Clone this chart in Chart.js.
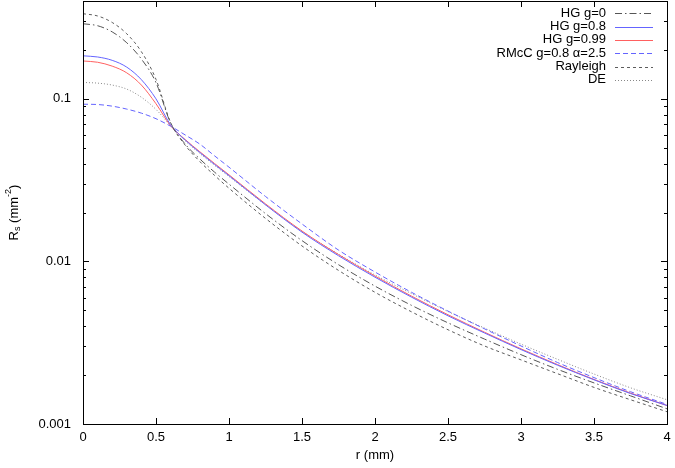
<!DOCTYPE html>
<html>
<head>
<meta charset="utf-8">
<script src="https://cdn.jsdelivr.net/npm/chart.js@4/dist/chart.umd.min.js"></script>
<style>
html,body{margin:0;padding:0;background:#fff;}
canvas{display:block;}
</style>
</head>
<body>
<canvas id="c" width="675" height="468"></canvas>
<script>
// radial distance r (mm)
const rValues = [0, 0.1, 0.2, 0.3, 0.4, 0.5, 0.6, 0.7, 0.8, 0.9, 1.0, 1.25, 1.5, 1.75, 2.0, 2.25, 2.5, 2.75, 3.0, 3.25, 3.5, 3.75, 4.0];
// Rs (mm^-2)
const hgG0     = [0.2897, 0.2818, 0.2582, 0.2213, 0.1758, 0.1259, 0.0711, 0.0527, 0.0427, 0.0355, 0.0299, 0.0197, 0.01343, 0.00955, 0.00705, 0.00537, 0.00419, 0.00333, 0.00267, 0.00217, 0.00179, 0.00149, 0.00124];
const hgG08    = [0.184, 0.181, 0.1726, 0.1567, 0.1312, 0.100, 0.0692, 0.0558, 0.0468, 0.0396, 0.0337, 0.0223, 0.01514, 0.01084, 0.0080, 0.00603, 0.00463, 0.00363, 0.00287, 0.0023, 0.00187, 0.00154, 0.0013];
const hgG099   = [0.171, 0.168, 0.159, 0.1445, 0.1216, 0.0933, 0.0684, 0.0562, 0.0473, 0.0401, 0.0341, 0.0226, 0.01538, 0.01102, 0.00813, 0.00612, 0.0047, 0.00367, 0.0029, 0.00232, 0.00188, 0.00155, 0.0013];
const rmcc     = [0.0927, 0.0923, 0.0902, 0.0865, 0.0817, 0.0755, 0.0679, 0.060, 0.0527, 0.0447, 0.038, 0.0251, 0.0170, 0.01175, 0.00861, 0.00646, 0.00495, 0.00385, 0.00302, 0.00239, 0.00193, 0.00158, 0.00132];
const rayleigh = [0.334, 0.3236, 0.2951, 0.2512, 0.195, 0.1318, 0.0716, 0.0519, 0.0412, 0.0339, 0.0282, 0.0184, 0.01245, 0.00881, 0.00646, 0.0049, 0.0038, 0.00302, 0.00248, 0.00204, 0.00168, 0.00141, 0.00119];
const deApprox = [0.1262, 0.125, 0.1216, 0.1148, 0.1023, 0.0861, 0.0684, 0.0552, 0.0462, 0.0391, 0.0333, 0.0223, 0.01531, 0.01109, 0.00826, 0.00634, 0.00492, 0.00389, 0.0031, 0.0025, 0.00203, 0.00167, 0.00141];

const seriesLabels = ['HG g=0', 'HG g=0.8', 'HG g=0.99', 'RMcC g=0.8 \u03b1=2.5', 'Rayleigh', 'DE'];
const xTickValues = [0, 0.5, 1, 1.5, 2, 2.5, 3, 3.5, 4];
const yTickValues = [0.001, 0.01, 0.1];
const xTitle = 'r (mm)';

const FONT = "'Liberation Sans', Arial, Helvetica, sans-serif";

const seriesData = [hgG0, hgG08, hgG099, rmcc, rayleigh, deApprox];
const styles = [
  {color: '#555555', dash: [7, 3, 1.5, 3]},
  {color: '#6464ff', dash: []},
  {color: '#ff6060', dash: []},
  {color: '#6464ff', dash: [5, 3]},
  {color: '#5c5c5c', dash: [3, 3]},
  {color: '#888888', dash: [1, 2]}
];

const datasets = seriesData.map((arr, i) => ({
  label: seriesLabels[i],
  data: arr.map((v, j) => ({x: rValues[j], y: v})),
  borderColor: styles[i].color,
  borderDash: styles[i].dash,
  borderWidth: 1,
  pointRadius: 0,
  fill: false,
  cubicInterpolationMode: 'monotone'
}));

function noPad(s) {
  s.paddingTop = 0; s.paddingBottom = 0; s.paddingLeft = 0; s.paddingRight = 0;
}

const decorPlugin = {
  id: 'decor',
  afterDraw(chart) {
    const ctx = chart.ctx;
    const a = chart.chartArea;
    const xs = chart.scales.x, ys = chart.scales.y;
    ctx.save();
    ctx.strokeStyle = '#000';
    ctx.lineWidth = 1;
    ctx.setLineDash([]);
    // frame
    ctx.strokeRect(Math.round(a.left) + 0.5, Math.round(a.top) + 0.5, Math.round(a.right - a.left), Math.round(a.bottom - a.top));
    ctx.beginPath();
    // x ticks (bottom & top, inward)
    xTickValues.forEach(v => {
      const px = Math.round(xs.getPixelForValue(v)) + 0.5;
      ctx.moveTo(px, a.bottom); ctx.lineTo(px, a.bottom - 6);
      ctx.moveTo(px, a.top); ctx.lineTo(px, a.top + 6);
    });
    // y ticks major + minor
    for (let d = 0; d < yTickValues.length; d++) {
      const base = yTickValues[d];
      for (let m = 1; m <= 9; m++) {
        const v = base * m;
        if (v > ys.max) break;
        const py = Math.round(ys.getPixelForValue(v)) + 0.5;
        const len = m === 1 ? 6 : 3;
        ctx.moveTo(a.left, py); ctx.lineTo(a.left + len, py);
        ctx.moveTo(a.right, py); ctx.lineTo(a.right - len, py);
      }
    }
    ctx.stroke();

    // legend
    ctx.font = '13px ' + FONT;
    ctx.fillStyle = '#000';
    ctx.textAlign = 'right';
    ctx.textBaseline = 'middle';
    chart.data.datasets.forEach((ds, i) => {
      const y = 13.3 + i * 13.3;
      ctx.fillText(ds.label, 606, y);
      ctx.beginPath();
      ctx.strokeStyle = ds.borderColor;
      ctx.setLineDash(ds.borderDash);
      ctx.moveTo(615, Math.round(y) + 0.5);
      ctx.lineTo(653, Math.round(y) + 0.5);
      ctx.stroke();
    });
    ctx.setLineDash([]);

    // x title
    ctx.fillStyle = '#000';
    ctx.textAlign = 'center';
    ctx.textBaseline = 'middle';
    ctx.font = '13px ' + FONT;
    ctx.fillText(xTitle, (a.left + a.right) / 2, 455);

    // y title with sub/superscript
    ctx.save();
    ctx.translate(14, (a.top + a.bottom) / 2);
    ctx.rotate(-Math.PI / 2);
    ctx.textAlign = 'left';
    ctx.textBaseline = 'middle';
    const parts = [
      {t: 'R', f: 13, dy: 0},
      {t: 's', f: 9, dy: 4},
      {t: ' (mm', f: 13, dy: 0},
      {t: '-2', f: 9, dy: -5},
      {t: ')', f: 13, dy: 0}
    ];
    let w = 0;
    parts.forEach(p => { ctx.font = p.f + 'px ' + FONT; w += ctx.measureText(p.t).width; });
    let x = -w / 2;
    parts.forEach(p => {
      ctx.font = p.f + 'px ' + FONT;
      ctx.fillText(p.t, x, p.dy);
      x += ctx.measureText(p.t).width;
    });
    ctx.restore();
    ctx.restore();
  }
};

new Chart(document.getElementById('c'), {
  type: 'line',
  data: {datasets},
  options: {
    responsive: false,
    animation: false,
    devicePixelRatio: 1,
    layout: {padding: {top: 1, right: 8, left: 0, bottom: 0}},
    plugins: {legend: {display: false}, tooltip: {enabled: false}},
    scales: {
      x: {
        type: 'linear',
        min: 0, max: 4,
        grid: {display: false, drawTicks: false},
        border: {display: false},
        afterBuildTicks: s => { s.ticks = xTickValues.map(v => ({value: v})); },
        afterFit: s => { s.height = 44; noPad(s); },
        ticks: {
          padding: 6,
          color: '#000',
          font: {family: FONT, size: 13},
          maxRotation: 0,
          autoSkip: false,
          callback: v => String(v)
        }
      },
      y: {
        type: 'logarithmic',
        min: 0.001, max: 0.4,
        grid: {display: false, drawTicks: false},
        border: {display: false},
        afterBuildTicks: s => { s.ticks = yTickValues.map(v => ({value: v})); },
        afterFit: s => { s.width = 83; noPad(s); },
        ticks: {
          padding: 12,
          color: '#000',
          font: {family: FONT, size: 13},
          autoSkip: false,
          callback: v => String(v)
        }
      }
    }
  },
  plugins: [decorPlugin]
});
</script>
</body>
</html>
